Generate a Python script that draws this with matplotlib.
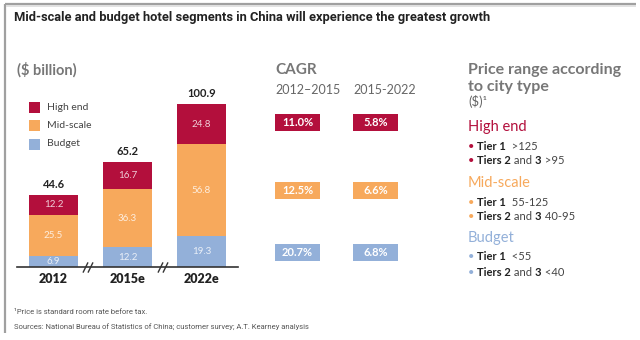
import matplotlib
matplotlib.use('Agg')
import matplotlib.pyplot as plt
from matplotlib.patches import Rectangle
import numpy as np

# ---------------- data ----------------
years = ['2012', '2015e', '2022e']
budget = [6.9, 12.2, 19.3]
mid_scale = [25.5, 36.3, 56.8]
high_end = [12.2, 16.7, 24.8]
totals = [44.6, 65.2, 100.9]
segments = ['High end', 'Mid-scale', 'Budget']
cagr_periods = ['2012–2015', '2015-2022']
cagr_2012_2015 = ['11.0%', '12.5%', '20.7%']
cagr_2015_2022 = ['5.8%', '6.6%', '6.8%']
tier1_prices = ['>125', '55-125', '<55']
tier23_prices = ['>95', '40-95', '<40']

C_HIGH = '#B30F3C'
C_MID = '#F7A95C'
C_BUD = '#93B0D9'
seg_colors = [C_HIGH, C_MID, C_BUD]
GRAY = '#777777'
DARK = '#222222'

NARROW = ['Liberation Sans Narrow', 'DejaVu Sans Condensed', 'Roboto', 'DejaVu Sans']
GEO = ['Lato', 'DejaVu Sans']
plt.rcParams['font.family'] = GEO

W, H = 640, 340
fig = plt.figure(figsize=(6.4, 3.4), dpi=100)
fig.patch.set_facecolor('white')


def px_axes(x0, y0, x1, y1):
    return fig.add_axes([x0 / W, 1 - y1 / H, (x1 - x0) / W, (y1 - y0) / H])


ov = px_axes(0, 0, W, H)
ov.set_xlim(0, W)
ov.set_ylim(H, 0)
ov.axis('off')

# frame
ov.plot([5, 5], [4, 333], color='#a0a0a0', lw=1.6, solid_capstyle='butt')
ov.plot([5, 636], [4, 4], color='#a0a0a0', lw=1.6, solid_capstyle='butt')
ov.plot([6, 636], [6, 6], color='#dddddd', lw=1.2, solid_capstyle='butt')

# title
ov.text(14, 17, 'Mid-scale and budget hotel segments in China will experience the greatest growth',
        fontsize=9.3, fontweight='bold', color=DARK, va='center', ha='left', family=NARROW)

# ---------------- bars ----------------
ax = px_axes(16.5, 60, 238.5, 267)
x = np.arange(len(years))
bw = 0.66
ax.bar(x, budget, width=bw, color=C_BUD)
ax.bar(x, mid_scale, width=bw, bottom=budget, color=C_MID)
b2 = np.add(budget, mid_scale)
ax.bar(x, high_end, width=bw, bottom=b2, color=C_HIGH)
ax.set_xlim(-0.5, 2.5)
ax.set_ylim(0, 207 / 1.614)
for s in ['top', 'right', 'left']:
    ax.spines[s].set_visible(False)
ax.spines['bottom'].set_color('#333333')
ax.spines['bottom'].set_linewidth(1.2)
ax.set_yticks([])
ax.set_xticks(x)
ax.set_xticklabels(years, fontweight='heavy', fontsize=9, color=DARK)
ax.tick_params(axis='x', length=0, pad=4)
ax.patch.set_alpha(0)

for i in range(len(years)):
    for bot, val in [(0, budget[i]), (budget[i], mid_scale[i]), (b2[i], high_end[i])]:
        ax.text(x[i], bot + val / 2, f'{val}', ha='center', va='center',
                color='white', alpha=0.8, fontsize=7)
    ax.annotate(f'{totals[i]}', (x[i], totals[i]), xytext=(0, 7.5), textcoords='offset points',
                ha='center', va='center', fontweight='bold', fontsize=8, color=DARK)

# axis break marks
for bx in [88, 163]:
    for dx in [-2.5, 2.5]:
        ov.plot([bx + dx - 2.2, bx + dx + 2.2], [272, 263], color='#333333', lw=1.0)

ov.text(17, 70, '($ billion)', fontsize=10.5, fontweight='bold', color=GRAY, va='center', ha='left')

# legend
for k, (lab, col) in enumerate(zip(segments, seg_colors)):
    yy = [107, 125, 144][k]
    ov.add_patch(Rectangle((29, yy - 5.5), 11, 11, facecolor=col, edgecolor='none'))
    ov.text(47, yy, lab, fontsize=7.5, color='#444444', va='center', ha='left')

# ---------------- CAGR ----------------
ov.text(275, 70, 'CAGR', fontsize=11, fontweight='bold', color=GRAY, va='center', ha='left')
ov.text(275, 90, cagr_periods[0], fontsize=9, color='#666666', va='center', ha='left')
ov.text(353, 90, cagr_periods[1], fontsize=9, color='#666666', va='center', ha='left')
row_y = [122, 190, 252]
for k in range(3):
    for cx, vals in [(275, cagr_2012_2015), (353, cagr_2015_2022)]:
        ov.add_patch(Rectangle((cx, row_y[k] - 8.5), 45, 17, facecolor=seg_colors[k], edgecolor='none'))
        ov.text(cx + 22.5, row_y[k], vals[k], fontsize=8, fontweight='bold', color='white',
                va='center', ha='center')

# ---------------- price range ----------------
ov.text(468, 70, 'Price range according', fontsize=11.5, fontweight='bold', color=GRAY, va='center', ha='left')
ov.text(468, 87, 'to city type', fontsize=11.5, fontweight='bold', color=GRAY, va='center', ha='left')
ov.text(468, 101, '($)¹', fontsize=9.5, color='#666666', va='center', ha='left')


def runs(x0, y0, parts, size=8):
    prev = None
    for txt, kw in parts:
        if prev is None:
            prev = ov.text(x0, y0, txt, fontsize=size, va='center', ha='left', **kw)
        else:
            prev = ov.annotate(txt, xy=(1, 0), xycoords=prev, va='bottom', ha='left',
                               fontsize=size, **kw)


head_y = [127, 183, 238]
line_y = [(146, 160), (202, 217), (257, 272)]
for k in range(3):
    ov.text(468, head_y[k], segments[k], fontsize=10.5, color=seg_colors[k], va='center', ha='left')
    y1, y2 = line_y[k]
    runs(468, y1, [('• ', dict(color=seg_colors[k])),
                   ('Tier 1', dict(color=DARK, fontweight='bold')),
                   ('  ' + tier1_prices[k], dict(color='#444444'))])
    runs(468, y2, [('• ', dict(color=seg_colors[k])),
                   ('Tiers 2', dict(color=DARK, fontweight='bold')),
                   (' and ', dict(color='#444444')),
                   ('3', dict(color=DARK, fontweight='bold')),
                   (' ' + tier23_prices[k], dict(color='#444444'))])

# footnotes
ov.text(14, 312, '¹Price is standard room rate before tax.', fontsize=5.5, color='#555555',
        va='center', ha='left', family=NARROW)
ov.text(14, 327, 'Sources: National Bureau of Statistics of China; customer survey; A.T. Kearney analysis',
        fontsize=5.5, color='#555555', va='center', ha='left', family=NARROW)

fig.savefig('out.png', dpi=100)
